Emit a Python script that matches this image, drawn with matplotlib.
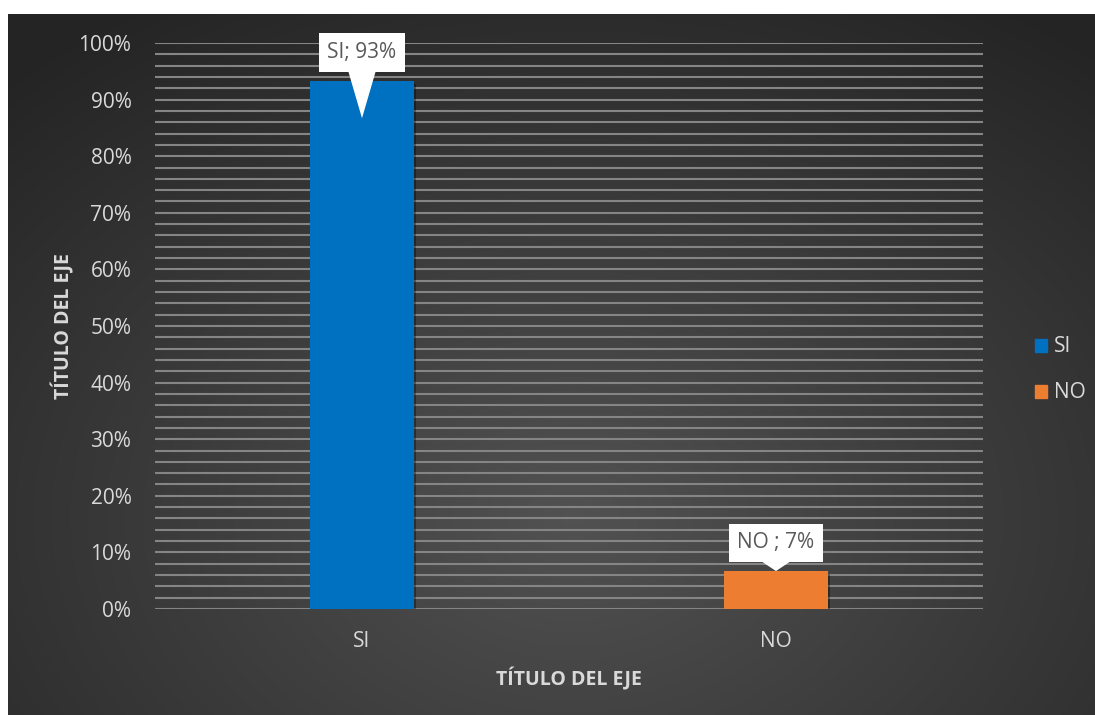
import numpy as np
import matplotlib.pyplot as plt
import matplotlib.patheffects as pe
from matplotlib.patches import Patch

plt.rcParams['font.family'] = ['Open Sans', 'DejaVu Sans']

# data
categories = ['SI', 'NO']
values = [0.933, 0.067]
labels = ['SI; 93%', 'NO ; 7%']
colors = ['#0070C0', '#ED7D31']
yticks = np.arange(0, 1.01, 0.1)
ytick_labels = ['0%', '10%', '20%', '30%', '40%', '50%', '60%', '70%', '80%', '90%', '100%']

W, H = 1095, 715
fig = plt.figure(figsize=(W / 100, H / 100), dpi=100, facecolor='white')

# dark radial background
bg = fig.add_axes([8 / W, 0, 1 - 8 / W, 1 - 14 / H])
bg.axis('off')
gx, gy = np.meshgrid(np.linspace(0, 1, 400), np.linspace(0, 1, 300))
r = np.sqrt(((gx - 0.52) / 0.75) ** 2 + ((gy - 0.72) / 0.85) ** 2)
r = np.clip(r, 0, 1)
shade = 0.32 - (0.32 - 0.145) * r
img = np.dstack([shade, shade, shade])
bg.imshow(img, aspect='auto', extent=[0, 1, 1, 0], interpolation='bilinear')
bg.set_xlim(0, 1)
bg.set_ylim(1, 0)

ax = fig.add_axes([155 / W, 1 - 609 / H, (983 - 155) / W, (609 - 43) / H])
ax.set_facecolor('none')
ax.set_xlim(-0.5, 1.5)
ax.set_ylim(0, 1.0)

# gridlines every 2%
for g in np.arange(0, 1.001, 0.02):
    ax.axhline(g, color='#858585', lw=1.5, zorder=1)

x = np.arange(len(categories))
bars = ax.bar(x, values, width=0.25, color=colors, zorder=3)
for b in bars:
    b.set_path_effects([pe.SimplePatchShadow(offset=(1.5, -2), shadow_rgbFace='black', alpha=0.35), pe.Normal()])

for s in ax.spines.values():
    s.set_visible(False)
ax.set_yticks(yticks)
ax.set_yticklabels(ytick_labels)
ax.set_xticks(x)
ax.set_xticklabels(categories)
ax.tick_params(length=0, colors='#d9d9d9', labelsize=15)
ax.tick_params(axis='y', pad=17)
ax.tick_params(axis='x', pad=16)

ax.set_ylabel('TÍTULO DEL EJE', color='#d9d9d9', fontsize=14, fontweight='bold', labelpad=3)
ax.set_xlabel('TÍTULO DEL EJE', color='#d9d9d9', fontsize=14, fontweight='bold', labelpad=11)

# callout labels
tips = [values[0] - 0.066, values[1]]
boxes = [values[0] + 0.05, values[1] + 0.05]
for i in range(len(categories)):
    ax.annotate(labels[i], xy=(x[i], tips[i]), xytext=(x[i], boxes[i]),
                ha='center', va='center', fontsize=15, color='#595959', zorder=5,
                bbox=dict(boxstyle='square,pad=0.42', fc='white', ec='none'),
                arrowprops=dict(arrowstyle='wedge,tail_width=1.3', fc='white', ec='none',
                                shrinkA=0, shrinkB=0))

handles = [Patch(color=c) for c in colors]
leg = fig.legend(handles, categories, loc='center left', bbox_to_anchor=(1016 / W, 1 - 370 / H),
                 frameon=False, fontsize=15, labelcolor='#d9d9d9', handlelength=0.6,
                 handleheight=0.6, handletextpad=0.3, labelspacing=1.2)

fig.savefig('out.png', dpi=100, facecolor='white')
